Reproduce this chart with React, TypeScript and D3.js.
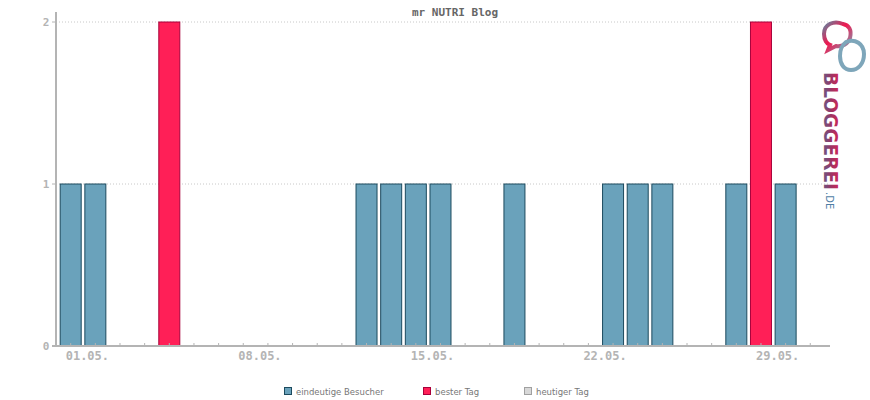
import React from "react";
import * as d3 from "d3";

// Mai: besucher pro tag (0 = keine)
const days = d3.range(1, 32);
const visitors = [1, 1, 0, 0, 2, 0, 0, 0, 0, 0, 0, 0, 1, 1, 1, 1, 0, 0, 1, 0, 0, 0, 1, 1, 1, 0, 0, 1, 2, 1, 0];
const bestValue = 2;
const yTicks = [0, 1, 2];
const labelDays = [1, 8, 15, 22, 29];
const legendItems = [
  { label: "eindeutige Besucher", fill: "#6aa2bb", stroke: "#1c4a5e" },
  { label: "bester Tag", fill: "#ff1f57", stroke: "#a8003a" },
  { label: "heutiger Tag", fill: "#d8d8d8", stroke: "#a0a0a0" },
];
const title = "mr NUTRI Blog";

const W = 870;
const H = 400;
const left = 56;
const right = 830;
const top = 22;
const bottom = 346;

const pad = (n: number) => (n < 10 ? "0" + n : "" + n);

export default function App() {
  const x = d3.scaleLinear().domain([0.404, 31.8]).range([left, right]);
  const y = d3.scaleLinear().domain([0, 2]).range([bottom, top]);
  const barW = 21;
  const legendX = [284, 423, 524];

  return (
    <svg width={W} height={H} style={{ position: "absolute", left: 0, top: 0 }}>
      <defs>
        <linearGradient id="logoGrad" x1="0" y1="0" x2="0" y2="1">
          <stop offset="0" stopColor="#e8224f" />
          <stop offset="0.5" stopColor="#9c3464" />
          <stop offset="1" stopColor="#4a6e94" />
        </linearGradient>
        <linearGradient id="loopGrad" x1="0" y1="0" x2="1" y2="1">
          <stop offset="0" stopColor="#5f85a0" />
          <stop offset="0.45" stopColor="#f0184f" />
          <stop offset="1" stopColor="#7aa4b8" />
        </linearGradient>
      </defs>
      <text x={455} y={16} textAnchor="middle" fontFamily="DejaVu Sans Mono" fontWeight="bold" fontSize={11} fill="#666">
        {title}
      </text>

      {/* gridlines */}
      {yTicks.filter((t) => t > 0).map((t) => (
        <line key={t} x1={left} x2={right} y1={y(t)} y2={y(t)} stroke="#c8c8c8" strokeDasharray="1,2" />
      ))}

      {/* bars */}
      {days.map((d, i) => {
        const v = visitors[i];
        if (!v) return null;
        const best = v === bestValue;
        const item = best ? legendItems[1] : legendItems[0];
        return (
          <rect
            key={d}
            x={x(d) - barW / 2}
            y={y(v)}
            width={barW}
            height={y(0) - y(v)}
            fill={item.fill}
            stroke={item.stroke}
            strokeWidth={1}
          />
        );
      })}

      {/* y axis */}
      <line x1={left} x2={left} y1={12} y2={bottom + 1} stroke="#b4b4b4" strokeWidth={2} />
      {yTicks.map((t) => (
        <g key={t}>
          <line x1={left - 4} x2={left} y1={y(t)} y2={y(t)} stroke="#b4b4b4" />
          <text x={46} y={y(t) + 4} textAnchor="middle" fontFamily="DejaVu Sans Mono" fontWeight="bold" fontSize={11} fill="#b4b4b4">
            {t}
          </text>
        </g>
      ))}

      {/* x axis */}
      <line x1={left - 4} x2={right} y1={bottom} y2={bottom} stroke="#b4b4b4" strokeWidth={2} />
      {days.map((d) => (
        <line key={d} x1={x(d)} x2={x(d)} y1={bottom - 3} y2={bottom} stroke="#b4b4b4" />
      ))}
      {labelDays.map((d) => (
        <text key={d} x={x(d) - 5} y={360} fontFamily="DejaVu Sans Mono" fontWeight="bold" fontSize={12} fill="#b4b4b4">
          {pad(d) + ".05."}
        </text>
      ))}

      {/* legend */}
      {legendItems.map((it, i) => (
        <g key={it.label}>
          <rect x={legendX[i] + 0.5} y={387.5} width={7} height={7} fill={it.fill} stroke={it.stroke} />
          <text x={legendX[i] + 12} y={395} fontFamily="DejaVu Sans" fontSize={8.5} fill="#777">
            {it.label}
          </text>
        </g>
      ))}

      {/* logo */}
      <g>
        <path
          d="M843,24 C834,20 824,24 824,34 C824,40 827,44 830,45 L828,50 L836,46 C842,47 848,44 850,38 C852,30 849,25 843,24 Z"
          fill="none"
          stroke="url(#loopGrad)"
          strokeWidth={4}
        />
        <path
          d="M846,42 C855,38 864,44 864,54 C864,64 858,70 851,70 C844,70 840,64 840,56 C840,50 842,45 846,42 Z"
          fill="none"
          stroke="#7ea6ba"
          strokeWidth={4}
        />
        <text
          transform="translate(824,72) rotate(90)"
          fontFamily="DejaVu Sans"
          fontWeight="bold"
          fontSize={20}
          fill="url(#logoGrad)"
          textLength={118}
          lengthAdjust="spacingAndGlyphs"
        >
          BLOGGEREI
        </text>
        <text transform="translate(826,192) rotate(90)" fontFamily="DejaVu Sans" fontSize={10} fill="#4f7ea5">
          .DE
        </text>
      </g>
    </svg>
  );
}
